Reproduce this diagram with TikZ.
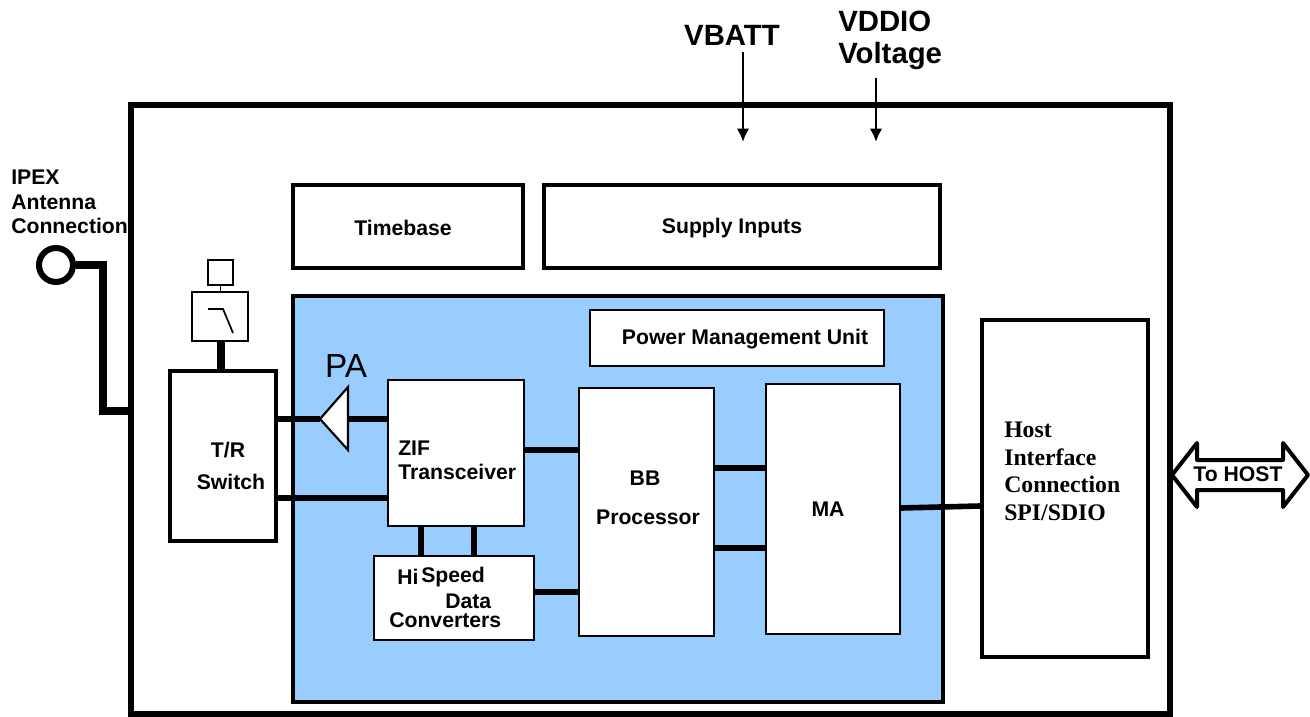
\documentclass[tikz,border=0pt]{standalone}
\usepackage{fontspec}
\setmainfont{Liberation Sans}
\newfontfamily\hostfont{Liberation Serif}
\usetikzlibrary{arrows.meta}
\definecolor{bluefill}{HTML}{99CCFF}
\tikzset{>=latex}
\tikzset{
    px/.style={x=.75pt, y=-.75pt},
    sz/.style 2 args={minimum width=#1*.75pt, minimum height=#2*.75pt, inner sep=0pt},
    block/.style={draw, fill=white, line width=3pt, font=\lab},
    thinblock/.style={block, line width=1.6pt},
    wire/.style={line width=4.2pt},
    tag/.style={font=\lab, inner sep=0pt, align=left},
    bigtag/.style={font=\biglab, inner sep=0pt, align=left},
    hosttag/.style={font=\hostlab, inner sep=0pt, anchor=west},
    feed/.style={line width=2.2pt, ->, >={Latex[length=10pt, width=9.5pt]}}
}
\newcommand{\lab}{\bfseries\fontsize{15.9}{18.4}\selectfont}
\newcommand{\biglab}{\bfseries\fontsize{22}{24}\selectfont}
\newcommand{\hostlab}{\hostfont\bfseries\fontsize{17.8}{20}\selectfont}
\begin{document}
\begin{tikzpicture}[px]
    \useasboundingbox (0, 0) rectangle (1310, 717);
    % outer module and the big blue area
    \node[block, sz={1039}{609}, line width=4.5pt] (module) at (650.5, 409.5) {};
    \node[block, sz={650}{406}, fill=bluefill] (chip) at (618, 499) {};
    \node[block, sz={230}{83}] (timebase) at (408, 226.5) {};
    \node[tag] at (403, 228) {Timebase};
    \node[block, sz={396}{83}] (supply) at (742, 226.5) {};
    \node[tag] at (732, 228) {Supply Inputs};
    \node[thinblock, sz={294}{56}] (pmu) at (737, 338) {};
    \node[tag] at (745, 339) {Power Management Unit};
    % blocks
    \node[block, sz={106}{170}] (tr) at (223, 456) {};
    \node[thinblock, sz={56}{49}] (filter) at (220, 316.5) {};
    \node[block, sz={25}{25}, line width=1.3pt] (ctrl) at (220.5, 272.5) {};
    \node[thinblock, sz={136}{146}] (zif) at (456, 453) {};
    \node[thinblock, sz={135}{248}] (bb) at (646.5, 512) {};
    \node[thinblock, sz={134}{250}] (ma) at (833, 509) {};
    \node[thinblock, sz={160}{84}] (conv) at (454, 598) {};
    \node[block, sz={166}{337}] (host) at (1065, 488.5) {};
    \node[circle, draw, fill=white, line width=4.5pt, sz={34}{34}] (ipex) at (56, 265) {};
    % connections
    \coordinate (patip) at (320, 419);
    \draw[wire, line width=5.8pt] (ipex.east) -- (103, 265) -- (103, 411) -- (module.west |- 0, 411);
    \draw[wire, line width=6pt] (filter.south -| 221, 0) -- (tr.north -| 221, 0);
    \draw[line width=1.3pt] (ctrl.south) -- (filter.north -| ctrl.south);
    \draw[line width=1.3pt] (208, 309) -- (223, 309) -- (233, 333);
    \draw[wire] (tr.east |- patip) -- (patip);
    \draw[wire] (zif.west |- patip) -- (348, 419);
    \draw[line width=1.6pt, fill=white] (patip) -- (348, 387) -- (348, 450) -- cycle;
    \draw[wire] (tr.east |- 0, 498) -- (zif.west |- 0, 498);
    \draw[wire] (zif.east |- 0, 450) -- (bb.west |- 0, 450);
    \draw[wire] (conv.east |- 0, 592) -- (bb.west |- 0, 592);
    \draw[wire] (bb.east |- 0, 468) -- (ma.west |- 0, 468);
    \draw[wire] (bb.east |- 0, 548) -- (ma.west |- 0, 548);
    \draw[wire] (ma.east |- 0, 508) -- (host.west |- 0, 506);
    \draw[wire] (zif.south -| 421, 0) -- (conv.north -| 421, 0);
    \draw[wire] (zif.south -| 474, 0) -- (conv.north -| 474, 0);
    % supply feeds
    \coordinate (vbattend) at (743, 142);
    \coordinate (vddioend) at (876, 142);
    \draw[feed] (743, 52) -- (vbattend);
    \draw[feed] (876, 78) -- (vddioend);
    % arrow to the host
    \draw[line width=3pt, line join=round, fill=white] (1172, 475) -- (1197, 443) -- (1197, 460) -- (1283, 460)
        -- (1283, 443) -- (1308, 475) -- (1283, 507) -- (1283, 490) -- (1197, 490) -- (1197, 507) -- cycle;
    % labels
    \node[tag, anchor=west] (ipextext) at (11, 202) {IPEX\\Antenna\\Connection};
    \node[bigtag] (vbatt) at (732, 35) {VBATT};
    \node[bigtag, anchor=west] (vddio) at (838, 40) {VDDIO\\Voltage};
    \node[inner sep=0pt, font=\fontsize{25}{26}\selectfont] (pa) at (346, 366) {PA};
    \node[tag] (trtext) at (228, 450) {T/R};
    \node[tag] (swtext) at (231, 482) {Switch};
    \node[tag, anchor=west] (ziftext) at (398, 448) {ZIF};
    \node[tag, anchor=west] (transtext) at (398, 472) {Transceiver};
    \node[tag] (bbtext) at (645, 478) {BB};
    \node[tag] (proctext) at (648, 517) {Processor};
    \node[tag] (matext) at (828, 509) {MA};
    \node[tag, anchor=west] (hitext) at (397, 577) {Hi};
    \node[tag, anchor=west] (speedtext) at (421, 577) {Speed};
    \node[tag, anchor=west] (datatext) at (445, 601) {Data};
    \node[tag, anchor=west] (convtext) at (389, 620) {Converters};
    \node[hosttag] (host1) at (1004, 430) {Host};
    \node[hosttag] (host2) at (1004, 457) {Interface};
    \node[hosttag] (host3) at (1004, 484) {Connection};
    \node[hosttag] (host4) at (1004, 513) {SPI/SDIO};
    \node[tag] (tohost) at (1238, 474) {To HOST};
\end{tikzpicture}
\end{document}
